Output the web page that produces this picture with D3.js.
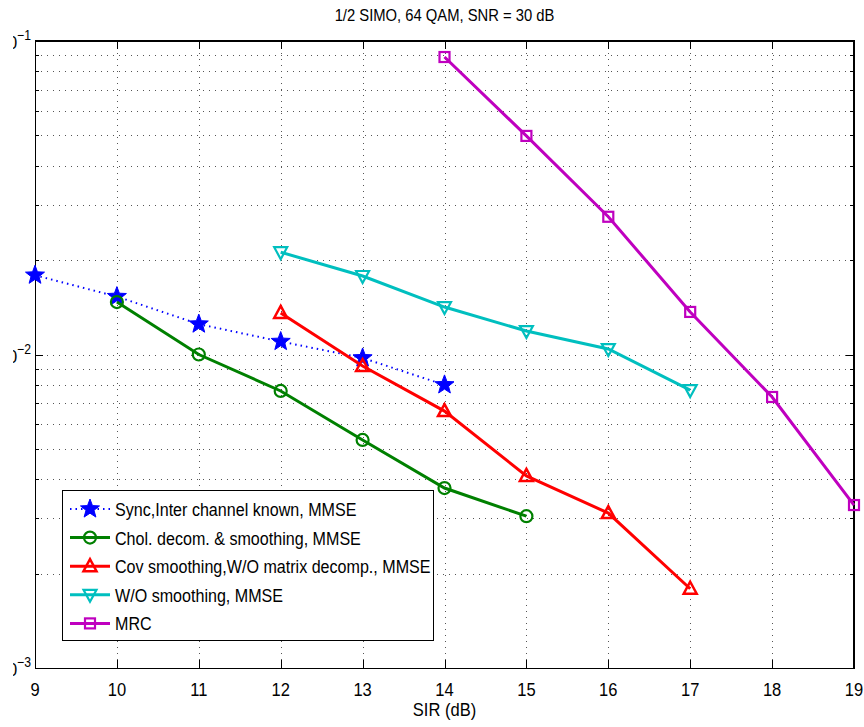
<!DOCTYPE html>
<meta charset="utf-8">
<head>
<style>
  body { margin: 0; background: #fff; }
  text { font-family: "Liberation Sans", Arial, sans-serif; fill: #000; }
</style>
</head>
<body>
<div id="chart"></div>
<script src="https://d3js.org/d3.v7.min.js"></script>
<script>
// SIR (dB) values of each curve
var xSync = [9, 10, 11, 12, 13, 14];
var ySync = [0.0179, 0.0153, 0.0125, 0.0110, 0.00975, 0.0080];
var xChol = [10, 11, 12, 13, 14, 15];
var yChol = [0.0147, 0.0100, 0.00765, 0.00534, 0.00375, 0.00305];
var xCov = [12, 13, 14, 15, 16, 17];
var yCov = [0.01357, 0.00919, 0.00660, 0.00410, 0.00312, 0.00179];
var xWo = [12, 13, 14, 15, 16, 17];
var yWo = [0.0212, 0.0178, 0.01417, 0.01188, 0.01041, 0.0077];
var xMrc = [14, 15, 16, 17, 18, 19];
var yMrc = [0.0889, 0.0498, 0.0275, 0.01367, 0.00732, 0.00331];

var legendLabels = [
  "Sync,Inter channel known, MMSE",
  "Chol. decom. & smoothing, MMSE",
  "Cov smoothing,W/O matrix decomp., MMSE",
  "W/O smoothing, MMSE",
  "MRC"
];
var xTicks = [9, 10, 11, 12, 13, 14, 15, 16, 17, 18, 19];
var yMajor = [-3, -2, -1];

var width = 864, height = 727;
var margin = {left: 35, right: 10, top: 41, bottom: 59};
var narrow = 0.87; // 細い書体の代わりに横方向を縮める

var svg = d3.select("#chart").append("svg")
  .attr("width", width)
  .attr("height", height);

var x = d3.scaleLinear().domain([9, 19]).range([margin.left, width - margin.right]);
var y = d3.scaleLog().domain([1e-3, 1e-1]).range([height - margin.bottom, margin.top]);

var x0 = x.range()[0], x1 = x.range()[1], y0 = y.range()[0], y1 = y.range()[1];

function label(parent, tx, ty, size, anchor, str) {
  return parent.append("g")
    .attr("transform", "translate(" + tx + "," + ty + ") scale(" + narrow + ",1)")
    .append("text")
    .attr("text-anchor", anchor)
    .style("font-size", size + "px")
    .text(str);
}

// 格子線
var minor = [];
[1e-3, 1e-2].forEach(function (d) {
  for (var k = 2; k <= 9; k++) minor.push(d * k);
});
var grid = svg.append("g")
  .attr("stroke", "#555")
  .attr("stroke-width", 1)
  .attr("stroke-dasharray", "1,5");
grid.selectAll(".vg").data(xTicks.slice(1, -1)).enter().append("line")
  .attr("x1", function (d) { return Math.round(x(d)) + 0.5; })
  .attr("x2", function (d) { return Math.round(x(d)) + 0.5; })
  .attr("y1", y1).attr("y2", y0);
grid.selectAll(".hg").data(minor.concat([1e-2])).enter().append("line")
  .attr("y1", function (d) { return Math.round(y(d)) + 0.5; })
  .attr("y2", function (d) { return Math.round(y(d)) + 0.5; })
  .attr("x1", x0).attr("x2", x1);

// 目盛り
var ticks = svg.append("g").attr("stroke", "#000").attr("stroke-width", 1);
xTicks.forEach(function (d) {
  var xx = Math.round(x(d)) + 0.5;
  ticks.append("line").attr("x1", xx).attr("x2", xx).attr("y1", y0).attr("y2", y0 - 8);
  ticks.append("line").attr("x1", xx).attr("x2", xx).attr("y1", y1).attr("y2", y1 + 8);
});
minor.concat([1e-2]).forEach(function (d) {
  var yy = Math.round(y(d)) + 0.5;
  var len = d === 1e-2 ? 8 : 4;
  ticks.append("line").attr("y1", yy).attr("y2", yy).attr("x1", x0).attr("x2", x0 + len);
  ticks.append("line").attr("y1", yy).attr("y2", yy).attr("x1", x1).attr("x2", x1 - len);
});

// 枠
svg.append("line").attr("x1", x0 + 0.5).attr("x2", x0 + 0.5).attr("y1", y1).attr("y2", y0).attr("stroke", "#000");
svg.append("line").attr("x1", x0).attr("x2", x1).attr("y1", y0 + 0.5).attr("y2", y0 + 0.5).attr("stroke", "#000");
svg.append("line").attr("x1", x0).attr("x2", x1 + 1).attr("y1", y1).attr("y2", y1).attr("stroke", "#000").attr("stroke-width", 2);
svg.append("line").attr("x1", x1).attr("x2", x1).attr("y1", y1).attr("y2", y0 + 1).attr("stroke", "#000").attr("stroke-width", 2);

// x軸ラベル
xTicks.forEach(function (d) {
  label(svg, x(d), y0 + 28, 19, "middle", d);
});
label(svg, (x0 + x1) / 2, 716, 19, "middle", "SIR (dB)");

// y軸ラベル（左端で切れている）
svg.append("clipPath").attr("id", "yclip")
  .append("rect").attr("x", 13).attr("y", 0).attr("width", 30).attr("height", height);
var yl = svg.append("g").attr("clip-path", "url(#yclip)");
yMajor.forEach(function (e) {
  var t = label(yl, 31, y(Math.pow(10, e)) + 8, 19, "end", null);
  t.append("tspan").text("10");
  t.append("tspan").attr("dy", -9).style("font-size", "14px").text("\u2212" + (-e));
});

// タイトル
label(svg, (x0 + x1) / 2, 21, 17, "middle", "1/2 SIMO, 64 QAM, SNR = 30 dB");

// マーカー
function star(r) {
  var pts = [];
  for (var i = 0; i < 10; i++) {
    var rr = i % 2 === 0 ? r : r * 0.42;
    var a = -Math.PI / 2 + i * Math.PI / 5;
    pts.push([rr * Math.cos(a), rr * Math.sin(a)]);
  }
  return "M" + pts.join("L") + "Z";
}
var markers = {
  star: function (g, c) {
    g.append("path").attr("d", star(10)).attr("fill", c).attr("stroke", c).attr("stroke-width", 1);
  },
  circle: function (g, c) {
    g.append("circle").attr("r", 6).attr("fill", "none").attr("stroke", c).attr("stroke-width", 2.2);
  },
  up: function (g, c) {
    g.append("path").attr("d", "M0,-7L6.5,5L-6.5,5Z").attr("fill", "none").attr("stroke", c).attr("stroke-width", 2.5);
  },
  down: function (g, c) {
    g.append("path").attr("d", "M0,7L6.5,-5L-6.5,-5Z").attr("fill", "none").attr("stroke", c).attr("stroke-width", 2.2);
  },
  square: function (g, c) {
    g.append("rect").attr("x", -5).attr("y", -5).attr("width", 10).attr("height", 10)
      .attr("fill", "none").attr("stroke", c).attr("stroke-width", 2.2);
  }
};

var series = [
  {xs: xSync, ys: ySync, color: "#0000ff", dash: "1.5,4", width: 2, marker: "star"},
  {xs: xChol, ys: yChol, color: "#008000", dash: null, width: 3, marker: "circle"},
  {xs: xCov, ys: yCov, color: "#ff0000", dash: null, width: 3, marker: "up"},
  {xs: xWo, ys: yWo, color: "#00bfbf", dash: null, width: 3, marker: "down"},
  {xs: xMrc, ys: yMrc, color: "#bf00bf", dash: null, width: 3, marker: "square"}
];

var line = d3.line()
  .x(function (d) { return x(d[0]); })
  .y(function (d) { return y(d[1]); });

series.forEach(function (s) {
  var pts = s.xs.map(function (d, i) { return [d, s.ys[i]]; });
  svg.append("path")
    .datum(pts)
    .attr("d", line)
    .attr("fill", "none")
    .attr("stroke", s.color)
    .attr("stroke-width", s.width)
    .attr("stroke-dasharray", s.dash);
  pts.forEach(function (p) {
    var g = svg.append("g").attr("transform", "translate(" + x(p[0]) + "," + y(p[1]) + ")");
    markers[s.marker](g, s.color);
  });
});

// 凡例
var lg = svg.append("g");
lg.append("rect")
  .attr("x", 62.5).attr("y", 490.5).attr("width", 371).attr("height", 150)
  .attr("fill", "#fff").attr("stroke", "#000").attr("stroke-width", 1);
series.forEach(function (s, i) {
  var yy = 509 + i * 28.6;
  lg.append("line")
    .attr("x1", 70).attr("x2", 110).attr("y1", yy).attr("y2", yy)
    .attr("stroke", s.color).attr("stroke-width", s.width)
    .attr("stroke-dasharray", s.dash);
  var g = lg.append("g").attr("transform", "translate(90," + yy + ")");
  markers[s.marker](g, s.color);
  label(lg, 115, yy + 7, 18.5, "start", legendLabels[i]);
});
</script>
</body>
